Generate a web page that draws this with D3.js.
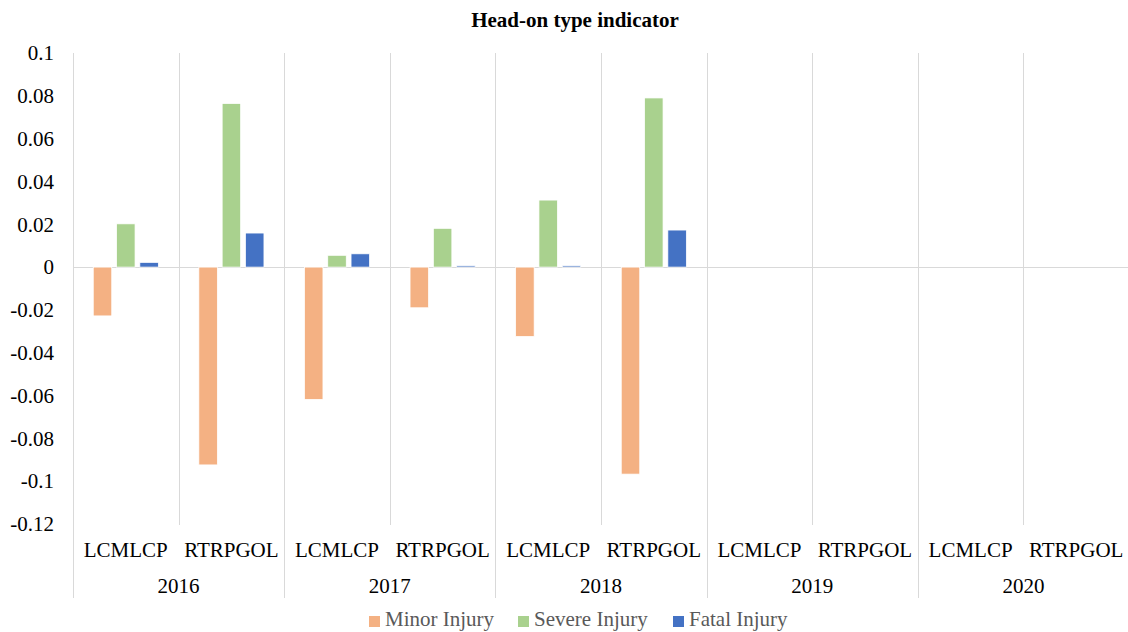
<!DOCTYPE html>
<html>
<head>
<meta charset="utf-8">
<script src="https://cdn.jsdelivr.net/npm/d3@7"></script>
<style>
  html, body { margin: 0; padding: 0; background: #fff; }
  svg { display: block; }
</style>
</head>
<body>
<div id="chart"></div>
<script>
const years = ["2016", "2017", "2018", "2019", "2020"];
const subCategories = ["LCMLCP", "RTRPGOL"];
const seriesNames = ["Minor Injury", "Severe Injury", "Fatal Injury"];
const seriesColors = ["#F4B183", "#A9D18E", "#4472C4"];
// values per (year, subcategory) in order 2016 LCMLCP, 2016 RTRPGOL, 2017 ..., 2020 RTRPGOL
const minorInjury  = [-0.0228, -0.0924, -0.0618, -0.0190, -0.0324, -0.0967, 0, 0, 0, 0];
const severeInjury = [0.0202, 0.0764, 0.0055, 0.0181, 0.0313, 0.0790, 0, 0, 0, 0];
const fatalInjury  = [0.0022, 0.0159, 0.0062, 0.0006, 0.0006, 0.0173, 0, 0, 0, 0];
const yTicks = [0.1, 0.08, 0.06, 0.04, 0.02, 0, -0.02, -0.04, -0.06, -0.08, -0.1, -0.12];

(function () {
const W = 1128, H = 632;
const pLeft = 73, pRight = 1129, pTop = 53, pBottom = 524;
const FONT = "'Liberation Serif', 'Times New Roman', serif";
const FS = 21;

const svg = d3.select("#chart").append("svg").attr("width", W).attr("height", H);

const y = d3.scaleLinear().domain([-0.12, 0.1]).range([pBottom, pTop]);
const xYear = d3.scaleBand().domain(years).range([pLeft, pRight]).padding(0);
const xSub = d3.scaleBand().domain(subCategories).range([0, xYear.bandwidth()]).padding(0);
const xSeries = d3.scaleBand().domain(seriesNames).range([0, xSub.bandwidth()])
  .paddingInner(0.206).paddingOuter(0.869);

const allSeries = [minorInjury, severeInjury, fatalInjury];
const rows = [];
years.forEach((yr, i) => subCategories.forEach((sc, j) => {
  const idx = i * subCategories.length + j;
  seriesNames.forEach((s, k) => rows.push({ year: yr, sub: sc, series: s, value: allSeries[k][idx], color: seriesColors[k] }));
}));

const grid = "#d9d9d9";
years.forEach(yr => {
  const x0 = Math.round(xYear(yr));
  svg.append("line").attr("x1", x0 + 0.5).attr("x2", x0 + 0.5)
    .attr("y1", pTop).attr("y2", 598).attr("stroke", grid).attr("stroke-width", 1);
  const xm = Math.round(xYear(yr) + xSub("RTRPGOL"));
  svg.append("line").attr("x1", xm + 0.5).attr("x2", xm + 0.5)
    .attr("y1", pTop).attr("y2", 525).attr("stroke", grid).attr("stroke-width", 1);
});

// zero line
svg.append("line").attr("x1", pLeft).attr("x2", W)
  .attr("y1", Math.round(y(0)) + 0.5).attr("y2", Math.round(y(0)) + 0.5)
  .attr("stroke", grid).attr("stroke-width", 1);

// bars
svg.append("g").selectAll("rect").data(rows).join("rect")
  .attr("x", d => xYear(d.year) + xSub(d.sub) + xSeries(d.series))
  .attr("width", xSeries.bandwidth())
  .attr("y", d => Math.min(y(d.value), y(0)))
  .attr("height", d => Math.abs(y(d.value) - y(0)))
  .attr("fill", d => d.color)
  .attr("stroke", "#fff").attr("stroke-width", 0.75);

// y axis labels
const yAxis = d3.axisLeft(y).tickValues(yTicks).tickSize(0).tickPadding(0)
  .tickFormat(d => d3.format("~g")(d).replace("−", "-"));
const gy = svg.append("g").attr("transform", `translate(${54},0)`).call(yAxis);
gy.attr("font-family", null).attr("font-size", null);
gy.select(".domain").remove();
gy.selectAll("text").attr("font-family", FONT).attr("font-size", FS).attr("fill", "#000");

// sub-category labels
const subLabels = [];
years.forEach(yr => subCategories.forEach(sc => subLabels.push({ yr, sc })));
svg.append("g").selectAll("text").data(subLabels).join("text")
  .attr("x", d => xYear(d.yr) + xSub(d.sc) + xSub.bandwidth() / 2)
  .attr("y", 557)
  .attr("text-anchor", "middle")
  .attr("font-family", FONT).attr("font-size", FS).attr("fill", "#000")
  .text(d => d.sc);

// year labels
svg.append("g").selectAll("text").data(years).join("text")
  .attr("x", d => xYear(d) + xYear.bandwidth() / 2)
  .attr("y", 593)
  .attr("text-anchor", "middle")
  .attr("font-family", FONT).attr("font-size", FS).attr("fill", "#000")
  .text(d => d);

// title
svg.append("text").attr("x", 575).attr("y", 27).attr("text-anchor", "middle")
  .attr("font-family", FONT).attr("font-size", FS).attr("font-weight", "bold").attr("fill", "#000")
  .text("Head-on type indicator");

// legend
const legendX = [369, 518, 673];
const lg = svg.append("g").selectAll("g").data(seriesNames).join("g")
  .attr("transform", (d, i) => `translate(${legendX[i]},0)`);
lg.append("rect").attr("x", 0).attr("y", 616).attr("width", 11).attr("height", 11)
  .attr("fill", (d, i) => seriesColors[i]);
lg.append("text").attr("x", 16).attr("y", 626)
  .attr("font-family", FONT).attr("font-size", FS).attr("fill", "#595959")
  .text(d => d);
})();
</script>
</body>
</html>
